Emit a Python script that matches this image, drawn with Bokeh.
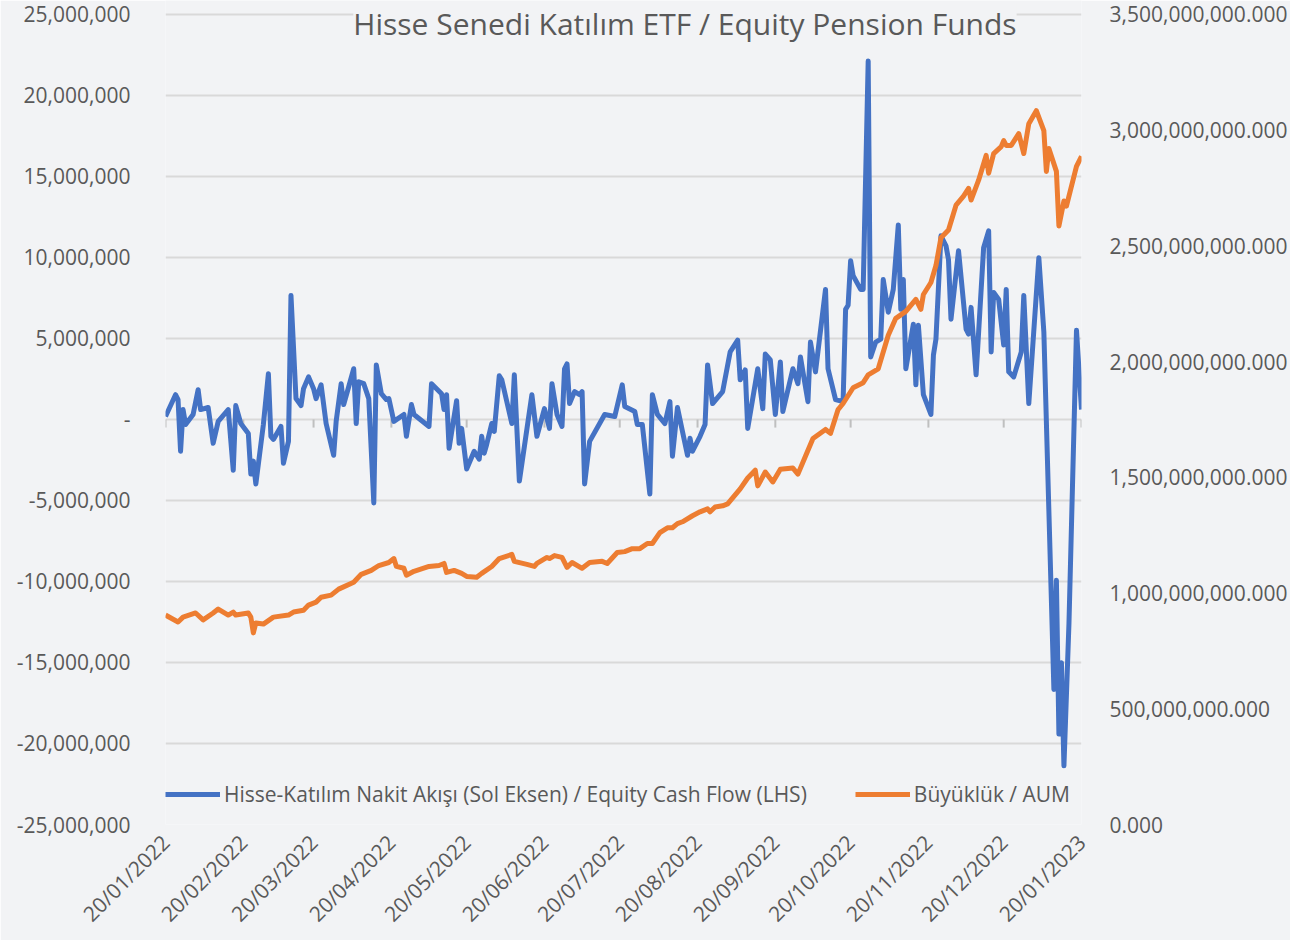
import pandas as pd
from bokeh.plotting import figure
from bokeh.models import (Range1d, LinearAxis, FixedTicker, NumeralTickFormatter,
                          DatetimeTickFormatter, Legend, LegendItem, Label)
from bokeh.embed import file_html
from bokeh.resources import INLINE

TITLE = "Hisse Senedi Katılım ETF / Equity Pension Funds"
FLOW_LABEL = "Hisse-Katılım Nakit Akışı (Sol Eksen) / Equity Cash Flow (LHS)"
AUM_LABEL = "Büyüklük / AUM"
START = "2022-01-20"

# days after 20/01/2022 and equity cash flow (million TL)
flow_day = [0, 4, 5, 6, 7, 8, 11, 13, 14, 17,
            19, 21, 25, 27, 28, 30, 33, 34, 35, 36,
            39, 41, 42, 43, 46, 47, 49, 50, 52, 54,
            55, 57, 59, 60, 62, 64, 67, 68, 70, 71,
            73, 75, 76, 77, 79, 81, 83, 84, 86, 88,
            89, 91, 95, 96, 98, 99, 105, 106, 110, 111,
            112, 113, 116, 117, 118, 120, 123, 125, 126, 127,
            128, 130, 131, 133, 134, 138, 139, 141, 146, 148,
            151, 153, 154, 156, 158, 159, 160, 161, 163, 165,
            166, 167, 169, 175, 179, 182, 183, 187, 188, 190,
            193, 194, 196, 199, 201, 202, 204, 206, 208, 209,
            210, 213, 215, 216, 218, 222, 225, 228, 229, 231,
            232, 236, 238, 239, 241, 243, 245, 246, 250, 252,
            253, 256, 257, 259, 263, 264, 267, 270, 271, 272,
            273, 274, 277, 278, 280, 281, 283, 285, 286, 288,
            290, 292, 293, 294, 295, 298, 299, 300, 302, 305,
            306, 307, 309, 311, 312, 313, 316, 319, 320, 321,
            323, 326, 328, 329, 330, 332, 334, 335, 336, 338,
            341, 342, 344, 348, 350, 354, 355, 356, 357, 358,
            360, 363, 365]
flow_mn = [0.18, 1.53, 1.23, -1.96, 0.61, -0.31, 0.31, 1.84, 0.61, 0.74,
           -1.47, -0.12, 0.61, -3.13, 0.86, -0.25, -0.86, -3.37, -2.57, -3.98,
           -0.31, 2.82, -1.04, -1.23, -0.43, -2.70, -1.35, 7.66, 1.29, 0.86,
           1.90, 2.63, 1.90, 1.29, 2.14, -0.25, -2.21, -0.12, 2.21, 0.92,
           2.02, 3.13, -0.25, 2.33, 2.21, 1.29, -5.15, 3.37, 1.59, 1.23,
           1.29, -0.12, 0.31, -1.04, 0.92, 0.31, -0.43, 2.21, 1.59, 0.61,
           1.53, -1.78, 1.16, -1.47, -0.55, -3.06, -1.96, -2.45, -1.04, -2.08,
           -1.53, -0.25, -0.74, 2.70, 2.45, -0.25, 2.76, -3.80, 1.53, -1.04,
           0.67, -0.55, 2.21, 0.31, -0.43, 3.13, 3.43, 0.98, 1.72, 1.53,
           1.72, -3.98, -1.35, 0.31, 0.18, 2.14, 0.80, 0.49, -0.31, -0.31,
           -4.60, 1.53, 0.31, -0.25, 1.10, -2.27, 0.74, -0.74, -2.21, -1.16,
           -1.96, -1.04, -0.31, 3.37, 0.98, 1.72, 4.17, 4.90, 2.45, 3.06,
           -0.55, 3.13, 0.67, 4.04, 3.68, 0.31, 3.55, 0.49, 3.13, 2.21,
           3.86, 1.10, 4.78, 2.94, 8.03, 3.13, 1.23, 1.10, 6.80, 7.05,
           9.80, 8.88, 8.03, 8.03, 22.12, 3.86, 4.78, 4.96, 8.64, 6.62,
           8.03, 12.01, 6.80, 8.64, 3.13, 5.88, 2.14, 5.82, 1.53, 0.31,
           3.98, 4.96, 11.34, 10.72, 9.87, 6.19, 10.42, 5.58, 5.27, 6.92,
           2.76, 10.60, 11.64, 4.17, 7.84, 7.41, 4.60, 8.03, 2.94, 2.63,
           4.17, 7.66, 0.98, 9.99, 5.39, -16.67, -9.93, -19.42, -15.01, -21.38,
           -12.6, 5.51, 0.61]

# days after 20/01/2022 and AUM (million TL)
aum_day = [0, 5, 7, 12, 15, 19, 21, 25, 27, 28,
           33, 34, 35, 36, 39, 43, 49, 51, 55, 57,
           60, 62, 66, 69, 75, 78, 82, 85, 89, 91,
           92, 95, 96, 99, 105, 109, 111, 112, 115, 118,
           120, 124, 126, 130, 133, 138, 139, 144, 147, 148,
           152, 153, 155, 158, 160, 162, 166, 169, 174, 176,
           180, 183, 186, 189, 192, 194, 197, 200, 202, 204,
           206, 210, 213, 216, 217, 219, 222, 224, 226, 229,
           232, 235, 236, 239, 242, 245, 250, 252, 255, 258,
           263, 265, 268, 270, 274, 278, 280, 284, 288, 291,
           295, 299, 301, 302, 305, 307, 309, 312, 315, 318,
           320, 321, 324, 327, 328, 330, 333, 334, 335, 337,
           340, 342, 344, 347, 350, 351, 352, 355, 356, 358,
           359, 363, 365]
aum_mn = [905, 875, 896, 914, 884, 914, 931, 905, 918, 905,
          914, 896, 828, 871, 866, 896, 905, 918, 926, 948,
          961, 982, 991, 1017, 1047, 1081, 1098, 1119, 1132, 1149,
          1115, 1107, 1077, 1094, 1115, 1119, 1128, 1089, 1098, 1085,
          1072, 1068, 1085, 1115, 1149, 1167, 1137, 1124, 1115, 1128,
          1154, 1149, 1162, 1154, 1111, 1132, 1107, 1132, 1137, 1128,
          1175, 1179, 1192, 1192, 1214, 1214, 1261, 1282, 1282, 1300,
          1308, 1334, 1351, 1364, 1351, 1372, 1377, 1385, 1411, 1450,
          1497, 1531, 1463, 1523, 1480, 1535, 1540, 1514, 1591, 1668,
          1707, 1690, 1793, 1819, 1887, 1909, 1943, 1969, 2114, 2187,
          2217, 2269, 2226, 2290, 2342, 2415, 2535, 2569, 2676, 2715,
          2749, 2698, 2784, 2891, 2814, 2899, 2929, 2955, 2934, 2934,
          2985, 2899, 3028, 3084, 2998, 2822, 2921, 2822, 2586, 2694,
          2672, 2844, 2887]

x_tick_dates = ["2022-01-20", "2022-02-20", "2022-03-20", "2022-04-20", "2022-05-20",
                "2022-06-20", "2022-07-20", "2022-08-20", "2022-09-20", "2022-10-20",
                "2022-11-20", "2022-12-20", "2023-01-20"]
left_ticks = [-25000000, -20000000, -15000000, -10000000, -5000000, 0,
              5000000, 10000000, 15000000, 20000000, 25000000]
right_ticks = [0, 500000000, 1000000000, 1500000000, 2000000000,
               2500000000, 3000000000, 3500000000]

TEXT = "#595959"
FONT = "Open Sans"
BG = "#f2f3f5"
BLUE = "#4472C4"
ORANGE = "#ED7D31"

# layout: frame spans the canvas top; the axes' top tick sits TOP_GAP px lower
FIG_H = 940
PLOT_H = 826
TOP_GAP = 14
pad_frac = TOP_GAP / (PLOT_H - TOP_GAP)

start = pd.Timestamp(START)
flow_x = [start + pd.Timedelta(days=d) for d in flow_day]
flow_y = [v * 1e6 for v in flow_mn]
aum_x = [start + pd.Timedelta(days=d) for d in aum_day]
aum_y = [v * 1e6 for v in aum_mn]
tick_ts = [pd.Timestamp(t) for t in x_tick_dates]
tick_ms = [t.value / 1e6 for t in tick_ts]

left_lo, left_hi = left_ticks[0], left_ticks[-1]
right_lo, right_hi = right_ticks[0], right_ticks[-1]

p = figure(width=1290, height=FIG_H, x_axis_type="datetime",
           output_backend="svg", toolbar_location=None,
           x_range=Range1d(tick_ts[0], tick_ts[-1]),
           y_range=Range1d(left_lo, left_hi + (left_hi - left_lo) * pad_frac),
           min_border_left=165, min_border_right=207,
           min_border_top=0, min_border_bottom=FIG_H - PLOT_H,
           background_fill_color=BG, border_fill_color=BG,
           outline_line_color=None)
p.extra_y_ranges = {"aum": Range1d(right_lo, right_hi + (right_hi - right_lo) * pad_frac)}

# grid
p.xgrid.grid_line_color = None
p.ygrid.ticker = FixedTicker(ticks=left_ticks)
p.ygrid.grid_line_color = "#d9d9d9"
p.ygrid.grid_line_width = 2

# left axis
ya = p.yaxis[0]
ya.ticker = FixedTicker(ticks=left_ticks)
ya.formatter = NumeralTickFormatter(format="0,0")
ya.major_label_overrides = {0: "-"}
ya.axis_line_color = None
ya.major_tick_line_color = None
ya.minor_tick_line_color = None
ya.major_label_standoff = 29
ya.major_label_text_font = FONT
ya.major_label_text_font_size = "21px"
ya.major_label_text_color = TEXT

# right axis
ra = LinearAxis(y_range_name="aum", ticker=FixedTicker(ticks=right_ticks),
                formatter=NumeralTickFormatter(format="0,0.000"))
ra.axis_line_color = None
ra.major_tick_line_color = None
ra.minor_tick_line_color = None
ra.major_label_standoff = 22
ra.major_label_text_font = FONT
ra.major_label_text_font_size = "21px"
ra.major_label_text_color = TEXT
p.add_layout(ra, "right")

# bottom axis
xa = p.xaxis[0]
xa.ticker = FixedTicker(ticks=tick_ms)
xa.formatter = DatetimeTickFormatter(days="%d/%m/%Y", months="%d/%m/%Y",
                                     years="%d/%m/%Y", hours="%d/%m/%Y")
xa.major_label_orientation = 0.785398
xa.axis_line_color = None
xa.major_tick_line_color = None
xa.minor_tick_line_color = None
xa.major_label_standoff = 8
xa.major_label_text_font = FONT
xa.major_label_text_font_size = "21px"
xa.major_label_text_color = TEXT

# tick marks on the zero line
p.segment(x0=tick_ts, y0=[0] * len(tick_ts), x1=tick_ts,
          y1=[-500000] * len(tick_ts), line_color="#bfbfbf", line_width=2)

blue = p.line(flow_x, flow_y, line_color=BLUE, line_width=5, line_join="round")
orange = p.line(aum_x, aum_y, y_range_name="aum", line_color=ORANGE,
                line_width=5, line_join="round")

legend = Legend(items=[LegendItem(label=FLOW_LABEL, renderers=[blue]),
                       LegendItem(label=AUM_LABEL, renderers=[orange])],
                orientation="horizontal", location=(0, 16),
                glyph_width=55, glyph_height=20, spacing=48, padding=0, margin=0,
                label_standoff=4, label_text_font=FONT,
                label_text_font_size="21px", label_text_color=TEXT,
                background_fill_alpha=0, border_line_color=None)
p.add_layout(legend)

title = Label(x=pd.Timestamp("2022-08-15"), y=left_hi, y_offset=-9,
              text=TITLE, text_align="center", text_baseline="middle",
              text_font=FONT, text_font_size="30px", text_color=TEXT,
              background_fill_color=BG, background_fill_alpha=1)
p.add_layout(title)

open("out.html", "w").write(file_html(p, INLINE))
